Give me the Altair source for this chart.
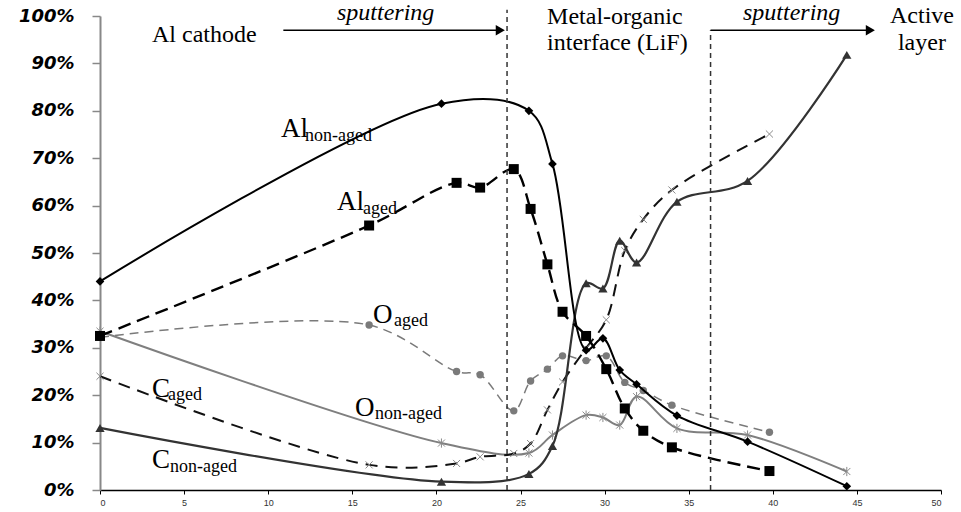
import altair as alt
import pandas as pd

# ---------------- data (values in %) ----------------
aged_x = [0, 16, 21.2, 22.6, 24.6, 25.6, 26.6, 27.5, 28.9, 30.1, 31.2, 32.3, 34.0, 39.8]
al_aged = [32.5, 55.8, 64.8, 63.8, 67.7, 59.3, 47.6, 37.6, 32.5, 25.5, 17.2, 12.5, 9.0, 4.0]
o_aged = [32.2, 34.8, 25.0, 24.3, 16.7, 23.0, 25.5, 28.3, 27.3, 28.3, 22.7, 21.0, 17.9, 12.2]
c_aged = [24.0, 5.3, 5.6, 7.0, 7.7, 9.8, 16.9, 22.8, 29.9, 35.9, 50.5, 57.1, 63.3, 75.1]

nonaged_x = [0, 20.3, 25.5, 26.9, 28.9, 29.9, 30.9, 31.9, 34.3, 38.5, 44.4]
al_nonaged = [44.0, 81.5, 80.0, 68.8, 29.5, 32.0, 25.3, 22.3, 15.7, 10.2, 0.8]
o_nonaged = [33.5, 9.9, 7.8, 11.6, 15.8, 15.3, 13.7, 19.7, 13.0, 11.6, 3.9]
c_nonaged = [13.1, 1.75, 3.4, 9.3, 43.6, 42.5, 52.6, 48.0, 60.8, 65.2, 91.8]

x_ticks = [0, 5, 10, 15, 20, 25, 30, 35, 40, 45, 50]
y_ticks = [0, 10, 20, 30, 40, 50, 60, 70, 80, 90, 100]

# region boundaries (depth) and sputtering arrows
boundary_x = [24.2, 36.3]
boundary_top = [101.3, 97.0]
arrow_x1 = [10.9, 36.3]
arrow_x2 = [23.6, 45.7]
arrow_tip = [23.8, 45.8]
arrow_y = [97.0, 97.0]

# header texts
head_text = ["Al cathode", "Metal-organic", "interface (LiF)", "Active", "layer"]
head_x = [3.09, 26.58, 26.58, 46.97, 47.44]
head_y = [94.5, 98.3, 92.8, 98.5, 92.8]
sput_text = ["sputtering", "sputtering"]
sput_x = [14.09, 38.23]
sput_y = [99.2, 99.2]

# curve labels (main symbol + subscript)
lab_main = ["Al", "Al", "O", "O", "C", "C"]
lab_main_x = [10.76, 14.09, 16.23, 15.16, 3.09, 3.09]
lab_main_y = [74.5, 59.1, 35.2, 15.6, 19.6, 4.6]
lab_sub = ["non-aged", "aged", "aged", "non-aged", "aged", "non-aged"]
lab_sub_x = [12.19, 15.64, 17.48, 16.35, 4.04, 4.16]
lab_sub_y = [73.6, 58.2, 34.6, 15.0, 19.0, 3.8]

SERIF = "Liberation Serif, Times New Roman, serif"

# ---------------- scales / axes ----------------
xs = alt.Scale(domain=[0, 50], nice=False, zero=False)
ys = alt.Scale(domain=[0, 1], nice=False)

x_axis = alt.Axis(values=x_ticks, title=None, grid=False, labelFont="Liberation Sans",
                  labelFontSize=9, labelColor="#333", tickSize=4, tickColor="#000",
                  domainColor="#000", domainWidth=1.5, labelPadding=4)
y_axis = alt.Axis(values=[v / 100 for v in y_ticks], format=".0%", title=None, grid=False,
                  labelFont="DejaVu Sans", labelFontSize=18, labelFontWeight="bold",
                  labelFontStyle="italic", labelColor="#000", labelPadding=18,
                  tickSize=8, tickColor="#888", tickWidth=1.5,
                  domainColor="#888", domainWidth=2)

def X(field="x"):
    return alt.X(f"{field}:Q", scale=xs, axis=x_axis)

def Y(field="y"):
    return alt.Y(f"{field}:Q", scale=ys, axis=y_axis)

def frame(xv, yv):
    return pd.DataFrame({"x": xv, "y": [v / 100 for v in yv]})

ASTER = "M-1,-1L1,1M-1,1L1,-1M0,-1.3L0,1.3"
XMARK = "M-1,-1L1,1M-1,1L1,-1"

layers = []

def series(xv, yv, color, width, dash, shape, msize, filled, mcolor, mstroke=1.0):
    df = frame(xv, yv)
    lk = dict(color=color, strokeWidth=width, interpolate="catmull-rom")
    if dash:
        lk["strokeDash"] = dash
    line = alt.Chart(df).mark_line(**lk).encode(x=X(), y=Y())
    pk = dict(shape=shape, size=msize, filled=filled, color=mcolor, opacity=1, strokeWidth=mstroke)
    pts = alt.Chart(df).mark_point(**pk).encode(x=X(), y=Y())
    return [line, pts]

layers += series(aged_x, o_aged, "#7a7a7a", 1.5, [9, 6], "circle", 55, True, "#7a7a7a")
layers += series(nonaged_x, o_nonaged, "#7f7f7f", 2, None, ASTER, 50, False, "#8a8a8a", 1)
layers += series(aged_x, c_aged, "#111111", 2, [12, 8], XMARK, 50, False, "#8a8a8a", 1)
layers += series(nonaged_x, c_nonaged, "#333333", 2.2, None, "triangle-up", 85, True, "#333333")
layers += series(aged_x, al_aged, "#000000", 2.4, [13, 7], "square", 100, True, "#000000")
layers += series(nonaged_x, al_nonaged, "#000000", 2, None, "diamond", 75, True, "#000000")

# boundaries
bdf = pd.DataFrame({"x": boundary_x, "y": [0, 0], "y2": [v / 100 for v in boundary_top]})
layers.append(alt.Chart(bdf).mark_rule(color="#333", strokeWidth=1.5, strokeDash=[5, 4]).encode(
    x=X(), y=Y(), y2="y2:Q"))

# arrows
adf = pd.DataFrame({"x": arrow_x1, "x2": arrow_x2, "tip": arrow_tip, "y": [v / 100 for v in arrow_y]})
layers.append(alt.Chart(adf).mark_rule(color="#000", strokeWidth=1.5).encode(
    x=X(), x2="x2:Q", y=Y()))
layers.append(alt.Chart(adf).mark_point(shape="triangle-right", size=110, filled=True,
                                        color="#000", opacity=1).encode(x=X("tip"), y=Y()))

# header texts
hdf = pd.DataFrame({"x": head_x, "y": [v / 100 for v in head_y], "t": head_text})
layers.append(alt.Chart(hdf).mark_text(font=SERIF, fontSize=24, align="left",
                                       baseline="alphabetic", color="#000").encode(
    x=X(), y=Y(), text="t:N"))
sdf = pd.DataFrame({"x": sput_x, "y": [v / 100 for v in sput_y], "t": sput_text})
layers.append(alt.Chart(sdf).mark_text(font=SERIF, fontSize=24, fontStyle="italic",
                                       align="left", baseline="alphabetic", color="#000").encode(
    x=X(), y=Y(), text="t:N"))

# curve labels
mdf = pd.DataFrame({"x": lab_main_x, "y": [v / 100 for v in lab_main_y], "t": lab_main})
layers.append(alt.Chart(mdf).mark_text(font=SERIF, fontSize=27, align="left",
                                       baseline="alphabetic", color="#000").encode(
    x=X(), y=Y(), text="t:N"))
subdf = pd.DataFrame({"x": lab_sub_x, "y": [v / 100 for v in lab_sub_y], "t": lab_sub})
layers.append(alt.Chart(subdf).mark_text(font=SERIF, fontSize=18, align="left",
                                         baseline="alphabetic", color="#000").encode(
    x=X(), y=Y(), text="t:N"))

chart = alt.layer(*layers).properties(
    width=841, height=474,
    padding={"left": 100, "top": 16, "right": 20, "bottom": 22},
    autosize=alt.AutoSizeParams(type="none"),
    background="white",
).configure_view(stroke=None)

chart.save("out.html", embed_options={"renderer": "svg", "actions": False})
